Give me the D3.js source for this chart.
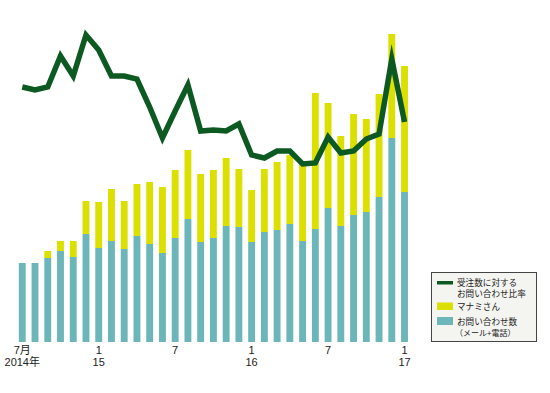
<!DOCTYPE html>
<html><head><meta charset="utf-8">
<script src="https://cdn.jsdelivr.net/npm/d3@7/dist/d3.min.js"></script>
<style>
body{margin:0;background:#fff;}
svg{display:block;}
</style></head>
<body>
<svg id="c" width="550" height="393"></svg>
<script>
// Months Jul 2014 .. Jan 2017
const months = ["2014-07","2014-08","2014-09","2014-10","2014-11","2014-12",
"2015-01","2015-02","2015-03","2015-04","2015-05","2015-06",
"2015-07","2015-08","2015-09","2015-10","2015-11","2015-12",
"2016-01","2016-02","2016-03","2016-04","2016-05","2016-06",
"2016-07","2016-08","2016-09","2016-10","2016-11","2016-12","2017-01"];
// お問い合わせ数 (メール+電話)
const inquiries = [79,79,84,91,85,108,94,101,93,106,98,89,104,123,100,104,116,115,100,110,112,118,101,113,134,116,127,130,145,204,150];
// マナミさん
const manami = [0,0,7,10,16,33,46,52,48,52,62,66,68,69,68,68,68,58,52,63,68,69,76,136,105,90,101,93,103,104,126];
// 受注数に対するお問い合わせ比率
const ratio = [25.5,25.2,25.5,28.6,26.6,30.7,29.2,26.6,26.6,26.3,23.5,20.4,23.1,25.7,21.1,21.2,21.1,21.8,18.7,18.4,19.1,19.1,17.8,17.9,20.5,18.9,19.1,20.3,20.8,28.3,22.0];
// tick labels
const tickIdx = [0,6,12,18,24,30];
const tickTop = ["7月","1","7","1","7","1"];
const tickBot = ["2014年","15","","16","","17"];

const svg = d3.select("#c");
const x = d3.scaleBand().domain(months).range([15.9,410.9]).paddingInner(0.46).paddingOuter(0.23);
const y = d3.scaleLinear().domain([0,310]).range([342,32]);
const yR = d3.scaleLinear().domain([0,31]).range([342,32]);

const cTeal="#6cb5b8", cYel="#dce000", cGreen="#0c5a22";

const g = svg.append("g");
g.selectAll("rect.t").data(months).join("rect").attr("class","t")
 .attr("x",d=>x(d)).attr("width",x.bandwidth())
 .attr("y",(d,i)=>y(inquiries[i])).attr("height",(d,i)=>y(0)-y(inquiries[i]))
 .attr("fill",cTeal);
g.selectAll("rect.m").data(months).join("rect").attr("class","m")
 .attr("x",d=>x(d)).attr("width",x.bandwidth())
 .attr("y",(d,i)=>y(inquiries[i]+manami[i])).attr("height",(d,i)=>y(inquiries[i])-y(inquiries[i]+manami[i]))
 .attr("fill",cYel);

const line = d3.line().x((d,i)=>x(months[i])+x.bandwidth()/2).y(d=>yR(d));
g.append("path").datum(ratio).attr("d",line).attr("fill","none")
 .attr("stroke",cGreen).attr("stroke-width",5.5).attr("stroke-linejoin","miter").attr("stroke-miterlimit",10);

// axis labels
const ax = svg.append("g").attr("font-family","'Liberation Sans',Arial,'Noto Sans CJK JP',sans-serif").attr("font-size",11).attr("fill","#222");
tickIdx.forEach((ti,k)=>{
  const cx = x(months[ti])+x.bandwidth()/2;
  const t = ax.append("text").attr("x",cx).attr("y",354).attr("text-anchor","middle");
  t.append("tspan").attr("x",cx).text(tickTop[k]);
  if(tickBot[k]) t.append("tspan").attr("x",cx).attr("dy",12).text(tickBot[k]);
});

// legend
const lg = svg.append("g").attr("font-family","'Noto Sans CJK JP',sans-serif").attr("fill","#222");
lg.append("rect").attr("x",431.5).attr("y",272.5).attr("width",105).attr("height",69)
 .attr("fill","#f4f4f0").attr("stroke","#444").attr("stroke-width",1);
lg.append("rect").attr("x",437).attr("y",281).attr("width",16).attr("height",3.5).attr("fill",cGreen);
const t1 = lg.append("text").attr("x",457).attr("y",285.8).attr("font-size",8.6);
t1.append("tspan").attr("x",457).text("受注数に対する");
t1.append("tspan").attr("x",457).attr("dy",11.6).text("お問い合わせ比率");
lg.append("rect").attr("x",437).attr("y",302.5).attr("width",16).attr("height",7.5).attr("fill",cYel);
lg.append("text").attr("x",457).attr("y",310).attr("font-size",8.6).text("マナミさん");
lg.append("rect").attr("x",437).attr("y",317).attr("width",16).attr("height",8).attr("fill",cTeal);
const t2 = lg.append("text").attr("x",457).attr("y",324.8).attr("font-size",8.6);
t2.append("tspan").attr("x",457).text("お問い合わせ数");
t2.append("tspan").attr("x",455).attr("dy",11.2).attr("font-size",8).text("（メール+電話）");
</script>
</body></html>
